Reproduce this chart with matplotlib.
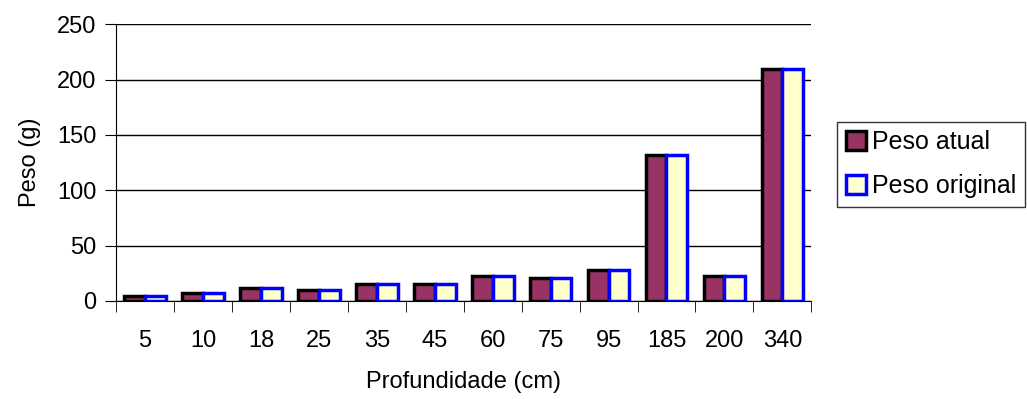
import numpy as np
import matplotlib.pyplot as plt
from matplotlib.ticker import FixedLocator, NullFormatter

plt.rcParams['font.family'] = ['Liberation Sans', 'DejaVu Sans']

profundidade = ['5', '10', '18', '25', '35', '45', '60', '75', '95', '185', '200', '340']
peso_atual = [4.5, 7, 12, 10, 15.5, 15.5, 22.5, 21, 28, 132, 22.5, 210]
peso_original = [4.5, 7, 12, 10, 15.5, 15.5, 22.5, 21, 28, 132, 22.5, 210]

x = np.arange(len(profundidade))
w = 0.36
fs = 17

fig = plt.figure(figsize=(10.27, 3.99), dpi=100)
ax = fig.add_axes([0.113, 0.246, 0.677, 0.693])

ax.bar(x - w/2, peso_atual, w, color='#993366', edgecolor='black', linewidth=2.5, zorder=3, label='Peso atual')
ax.bar(x + w/2, peso_original, w, color='#FFFFCC', edgecolor='blue', linewidth=2.5, zorder=3, label='Peso original')

ax.set_xlim(-0.5, len(x) - 0.5)
ax.set_ylim(0, 250)
ax.set_yticks(range(0, 251, 50))
ax.yaxis.grid(True, color='black', linewidth=1)
ax.set_axisbelow(True)

ax.set_xticks(x)
ax.set_xticklabels(profundidade, fontsize=fs)
ax.tick_params(axis='x', length=0, pad=21)
ax.xaxis.set_minor_locator(FixedLocator(np.arange(-0.5, len(x), 1)))
ax.xaxis.set_minor_formatter(NullFormatter())
ax.tick_params(axis='x', which='minor', length=8, direction='out', color='black')
ax.tick_params(axis='y', length=8, direction='out', labelsize=fs, pad=6)

for s in ['top', 'right']:
    ax.spines[s].set_visible(False)

ax.set_xlabel('Profundidade (cm)', fontsize=fs, labelpad=14)
ax.set_ylabel('Peso (g)', fontsize=fs, labelpad=12)

leg = fig.legend(loc='upper left', bbox_to_anchor=(0.815, 0.695), fontsize=18,
                 frameon=True, fancybox=False, edgecolor='black', borderpad=0.35,
                 handlelength=0.8, handleheight=0.8, handletextpad=0.25, labelspacing=0.8,
                 borderaxespad=0)
leg.get_frame().set_linewidth(1)

fig.savefig('out.png', dpi=100)
